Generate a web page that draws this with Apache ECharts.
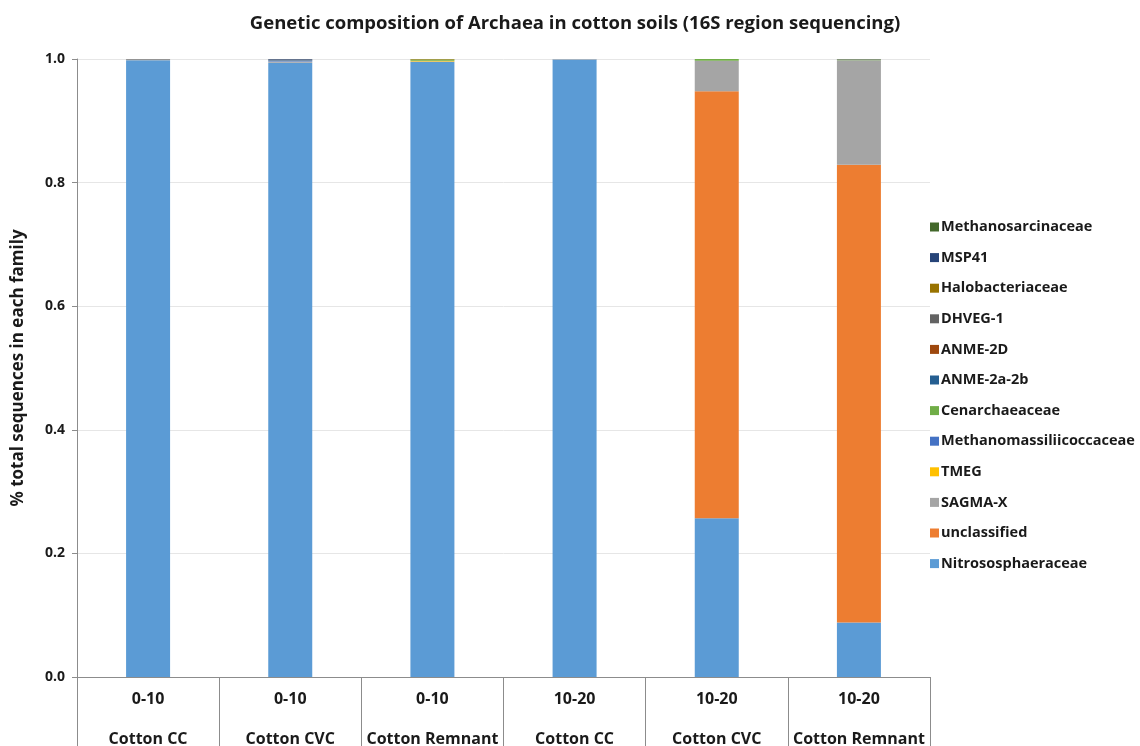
<!DOCTYPE html>
<html>
<head>
<meta charset="utf-8">
<script src="https://cdn.jsdelivr.net/npm/echarts@6/dist/echarts.min.js"></script>
<style>
  html, body { margin: 0; padding: 0; background: #fff; }
  #chart { width: 1140px; height: 746px; }
</style>
</head>
<body>
<div id="chart"></div>
<script>
// Sample groups: depth (cm) and site
const depths = ['0-10', '0-10', '0-10', '10-20', '10-20', '10-20'];
const sites = ['Cotton CC', 'Cotton CVC', 'Cotton Remnant', 'Cotton CC', 'Cotton CVC', 'Cotton Remnant'];

// Relative abundance of each archaeal family per sample (stack order, bottom to top)
const nitrososphaeraceae   = [0.998, 0.994, 0.995, 0.999, 0.257, 0.088];
const unclassified         = [0.000, 0.000, 0.000, 0.000, 0.691, 0.741];
const sagmaX               = [0.001, 0.002, 0.001, 0.001, 0.049, 0.169];
const tmeg                 = [0.000, 0.000, 0.001, 0.000, 0.000, 0.000];
const methanomassilii      = [0.000, 0.001, 0.000, 0.000, 0.000, 0.000];
const cenarchaeaceae       = [0.000, 0.000, 0.002, 0.000, 0.003, 0.001];
const anme2a2b             = [0.000, 0.001, 0.000, 0.000, 0.000, 0.000];
const anme2d               = [0.000, 0.000, 0.000, 0.000, 0.000, 0.000];
const dhveg1               = [0.001, 0.001, 0.000, 0.000, 0.000, 0.001];
const halobacteriaceae     = [0.000, 0.000, 0.001, 0.000, 0.000, 0.000];
const msp41                = [0.000, 0.001, 0.000, 0.000, 0.000, 0.000];
const methanosarcinaceae   = [0.000, 0.000, 0.000, 0.000, 0.000, 0.000];

const yTicks = [0, 0.2, 0.4, 0.6, 0.8, 1.0];

const families = [
  { name: 'Nitrososphaeraceae', data: nitrososphaeraceae, color: '#5B9BD5' },
  { name: 'unclassified', data: unclassified, color: '#ED7D31' },
  { name: 'SAGMA-X', data: sagmaX, color: '#A5A5A5' },
  { name: 'TMEG', data: tmeg, color: '#FFC000' },
  { name: 'Methanomassiliicoccaceae', data: methanomassilii, color: '#4472C4' },
  { name: 'Cenarchaeaceae', data: cenarchaeaceae, color: '#70AD47' },
  { name: 'ANME-2a-2b', data: anme2a2b, color: '#255E91' },
  { name: 'ANME-2D', data: anme2d, color: '#9E480E' },
  { name: 'DHVEG-1', data: dhveg1, color: '#636363' },
  { name: 'Halobacteriaceae', data: halobacteriaceae, color: '#997300' },
  { name: 'MSP41', data: msp41, color: '#264478' },
  { name: 'Methanosarcinaceae', data: methanosarcinaceae, color: '#43682B' }
];

const FONT = '"Open Sans", "Noto Sans", Arial, sans-serif';
const categories = depths.map((d, i) => d + '\n' + sites[i]);

const chart = echarts.init(document.getElementById('chart'), null, { renderer: 'canvas' });

chart.setOption({
  backgroundColor: '#ffffff',
  animation: false,
  title: {
    text: 'Genetic composition of Archaea in cotton soils (16S region sequencing)',
    left: 570,
    textAlign: 'center',
    top: 9,
    textStyle: { fontFamily: FONT, fontSize: 18.5, fontWeight: 'bold', color: '#1a1a1a' }
  },
  legend: {
    orient: 'vertical',
    left: 925,
    top: 212,
    itemWidth: 9,
    itemHeight: 9,
    itemGap: 10.6,
    icon: 'rect',
    data: families.map(f => f.name).reverse(),
    textStyle: { fontFamily: FONT, fontSize: 14.5, lineHeight: 20, fontWeight: 'bold', color: '#1a1a1a', padding: [0, 0, 0, -3] }
  },
  grid: { left: 77, right: 210, top: 59, bottom: 69, containLabel: false, outerBoundsMode: 'none' },
  xAxis: {
    type: 'category',
    data: categories,
    boundaryGap: true,
    axisLine: { show: true, lineStyle: { color: '#8c8c8c', width: 1 } },
    axisTick: { show: true, length: 70, lineStyle: { color: '#8c8c8c', width: 1 } },
    axisLabel: {
      margin: 2,
      lineHeight: 40,
      fontFamily: FONT,
      fontSize: 16,
      fontWeight: 'bold',
      color: '#1a1a1a',
      interval: 0
    }
  },
  yAxis: {
    type: 'value',
    min: 0,
    max: 1,
    interval: 0.2,
    name: '% total sequences in each family',
    nameLocation: 'middle',
    nameGap: 50,
    nameRotate: 90,
    nameTextStyle: { fontFamily: FONT, fontSize: 17, fontWeight: 'bold', color: '#1a1a1a' },
    axisLine: { show: true, lineStyle: { color: '#8c8c8c', width: 1 } },
    axisTick: { show: true, length: 5, inside: false, lineStyle: { color: '#8c8c8c' } },
    axisLabel: {
      margin: 12,
      fontFamily: FONT,
      fontSize: 14,
      fontWeight: 'bold',
      color: '#1a1a1a',
      formatter: v => yTicks.includes(Math.round(v * 10) / 10) ? v.toFixed(1) : ''
    },
    splitLine: { show: true, lineStyle: { color: '#e6e6e6', width: 1 } }
  },
  series: families.map(f => ({
    name: f.name,
    type: 'bar',
    stack: 'total',
    barWidth: 44,
    data: f.data,
    itemStyle: { color: f.color },
    emphasis: { disabled: true }
  }))
});
</script>
</body>
</html>
